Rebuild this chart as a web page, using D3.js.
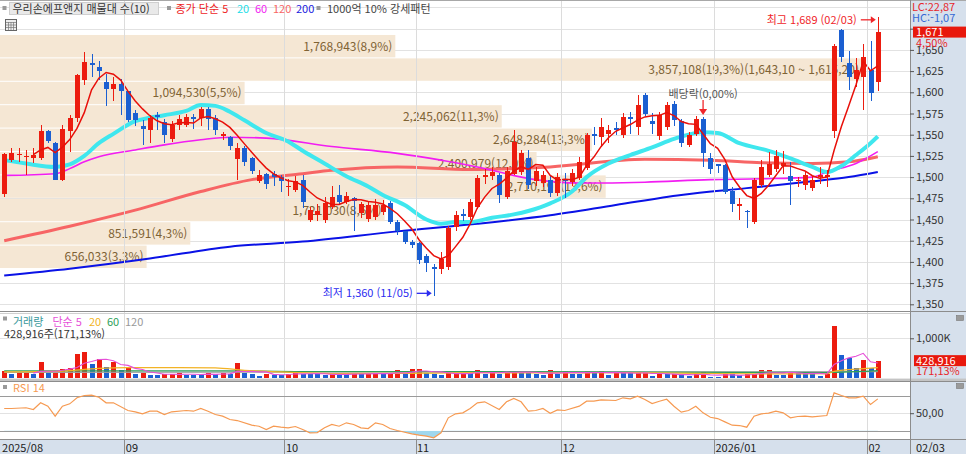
<!DOCTYPE html>
<html lang="ko"><head><meta charset="utf-8"><title>우리손에프앤지</title>
<script src="https://cdn.jsdelivr.net/npm/d3@7/dist/d3.min.js"></script>
<style>html,body{margin:0;padding:0;background:#fff;overflow:hidden}svg{display:block}</style>
</head><body>
<svg id="chart" width="966" height="454"></svg>
<script>
// ================= DATA =================
const openP = [1480,1520,1526,1524,1523,1523,1554,1540,1497,1554,
1570,1614,1634,1630,1612,1604,1610,1601,1576,1560,
1556,1573,1565,1545,1562,1562,1571,1570,1580,1570,
1549,1547,1521,1534,1522,1495,1504,1504,1500,1488,
1485,1497,1450,1455,1450,1465,1479,1471,1475,1458,
1451,1453,1459,1469,1447,1436,1424,1422,1407,1394,
1392,1394,1441,1457,1453,1465,1500,1501,1502,1477,
1504,1506,1522,1495,1493,1497,1481,1497,1494,1499,
1511,1551,1547,1551,1558,1550,1571,1559,1597,1566,
1548,1559,1586,1566,1538,1551,1568,1522,1515,1514,
1484,1466,1460,1447,1491,1503,1510,1513,1501,1495,
1491,1487,1500,1500,1554,1673,1635,1616,1618,1626,
1612];
const highP = [1528,1534,1534,1532,1534,1562,1556,1541,1561,1573,
1622,1647,1645,1637,1622,1618,1616,1602,1579,1567,
1573,1577,1569,1566,1573,1575,1575,1583,1583,1573,
1553,1549,1540,1537,1524,1508,1505,1507,1502,1498,
1501,1502,1465,1468,1476,1490,1491,1482,1477,1471,
1472,1474,1473,1472,1449,1437,1426,1424,1409,1398,
1412,1442,1460,1462,1474,1503,1510,1512,1505,1512,
1555,1532,1532,1512,1507,1503,1505,1505,1509,1524,
1552,1559,1570,1562,1565,1576,1577,1597,1599,1576,
1577,1589,1590,1569,1553,1572,1571,1528,1516,1516,
1488,1475,1461,1499,1520,1530,1532,1531,1518,1500,
1506,1501,1512,1508,1657,1675,1649,1640,1657,1660,
1689];
const lowP = [1477,1518,1518,1502,1517,1520,1540,1496,1495,1530,
1565,1609,1618,1614,1584,1590,1573,1565,1560,1538,
1540,1555,1540,1541,1555,1559,1557,1560,1555,1550,
1544,1532,1496,1513,1504,1493,1486,1490,1483,1478,
1482,1464,1447,1448,1446,1462,1468,1468,1436,1452,
1447,1449,1455,1445,1432,1421,1416,1398,1388,1360,
1386,1390,1436,1448,1450,1462,1492,1496,1470,1474,
1502,1503,1486,1490,1488,1476,1478,1475,1490,1496,
1508,1538,1535,1540,1550,1546,1551,1550,1572,1551,
1544,1555,1560,1536,1535,1548,1512,1504,1505,1480,
1459,1450,1440,1445,1488,1500,1506,1504,1467,1488,
1485,1484,1492,1488,1546,1636,1603,1606,1579,1590,
1602];
const closeP = [1527,1528,1527,1525,1526,1554,1543,1497,1557,1570,
1620,1636,1632,1625,1604,1610,1601,1567,1567,1557,
1570,1571,1550,1561,1569,1571,1568,1580,1569,1556,
1551,1537,1534,1518,1507,1502,1492,1500,1495,1490,
1495,1471,1461,1460,1470,1477,1471,1478,1472,1468,
1467,1467,1467,1447,1436,1424,1420,1402,1399,1392,
1404,1440,1455,1454,1471,1499,1503,1506,1479,1507,
1541,1528,1491,1507,1503,1481,1500,1496,1505,1518,
1550,1549,1559,1556,1556,1571,1568,1585,1575,1563,
1573,1585,1567,1540,1550,1569,1528,1510,1513,1483,
1468,1468,1459,1497,1512,1516,1525,1517,1495,1497,
1502,1497,1502,1502,1655,1642,1618,1626,1642,1599,
1671];
// volume in thousands of shares
const volumeK = [183,108,125,130,100,400,125,133,242,250,
600,667,350,483,283,400,200,250,108,142,
83,78,100,105,125,90,83,80,142,100,
125,108,392,125,120,60,108,83,80,108,
183,100,98,96,94,108,100,98,125,108,
125,128,100,125,208,108,233,236,125,120,
83,125,127,130,125,208,108,142,117,192,
195,133,130,108,83,217,108,192,108,105,
192,133,183,92,142,133,130,142,145,58,
117,100,105,75,67,100,150,42,40,100,
98,83,100,102,208,210,83,80,167,133,
130,125,58,100,1315,583,500,267,458,250,
428.916];
// moving averages: [candle index, value]
const ma20Pts = [[0,1520],[3,1516],[7,1512],[9,1515],[11,1525],[13,1540],[15,1551],[18,1566],[20,1570],[22,1573],[25,1578],[27,1585],[29,1584],[31,1577],[33,1567],[36,1552],[39,1542],[41,1531],[44,1516],[47,1501],[50,1489],[52,1479],[55,1467],[58,1450],[60,1445],[62,1447],[64,1447],[67,1452],[70,1456],[72,1460],[75,1469],[78,1483],[80,1500],[83,1516],[86,1526],[89,1535],[92,1545],[96,1553],[98,1552],[101,1540],[105,1531],[108,1522],[111,1512],[113,1506],[115,1513],[117,1526],[119,1540],[120,1548]];
const ma60Pts = [[0,1502],[7,1504],[9,1510],[11,1518],[13,1524],[18,1532],[22,1538],[27,1544],[31,1547],[36,1546],[45,1536],[54,1528],[60,1520],[65,1512],[67,1508],[73,1497],[79,1493],[88,1494],[97,1497],[104,1498],[111,1500],[113,1506],[117,1516],[120,1530]];
const ma120Pts = [[0,1425],[9,1442],[18,1461],[27,1483],[34,1497],[41,1504],[45,1508],[54,1512],[64,1509],[75,1512],[88,1521],[97,1520],[104,1517],[111,1516],[116,1518],[120,1524]];
const ma200Pts = [[0,1384],[9,1392],[20,1404],[31,1418],[41,1424],[54,1436],[65,1445],[75,1455],[84,1467],[93,1479],[102,1487],[111,1495],[116,1500],[120,1506]];
const volMa20Pts = [[0,160],[8,180],[13,250],[17,268],[24,268],[29,262],[33,200],[38,160],[45,120],[55,125],[65,140],[75,135],[85,140],[95,125],[105,110],[113,115],[114,175],[118,240],[120,265]];
const volMa60Pts = [[0,185],[30,185],[40,170],[70,165],[100,150],[113,145],[120,190]];
const volMa120Pts = [[0,150],[60,160],[120,165]];
const rsiPts = [[0,55.4],[1,55.4],[3,56.2],[4,54.2],[5,61.9],[6,58],[7,46.6],[8,58],[9,60.7],[10,67.6],[11,70.2],[12,70.6],[13,68.3],[14,61.9],[15,61.9],[17,53.1],[18,51.6],[19,49.3],[20,52.3],[21,52.3],[22,48.5],[23,51.6],[25,53.1],[26,52.3],[27,55.4],[28,52.3],[29,48.5],[30,46.6],[31,42.8],[32,41.6],[34,36.3],[35,35.1],[36,31.4],[37,35.1],[38,34],[39,33.3],[40,34.8],[41,31.4],[42,27.6],[43,27.9],[44,33.3],[45,37.1],[46,35.1],[47,39],[48,37.1],[49,33.3],[50,32.5],[51,39],[52,37.1],[53,32.5],[54,30.2],[56,26.4],[57,24.9],[58,23.8],[59,21.9],[60,27.6],[61,44.7],[62,49.3],[63,50.4],[64,55.4],[65,61.9],[66,63],[68,54.2],[69,63],[70,66.8],[71,63],[72,52.3],[73,53.1],[74,55.4],[75,50],[76,53.8],[77,53.1],[79,58],[80,63.7],[81,63.7],[82,65.3],[84,64.5],[85,67.6],[86,66.4],[87,69.5],[88,65.7],[89,61.1],[90,63.7],[91,66],[92,58],[93,51.2],[94,53.1],[95,58],[96,50.4],[97,45.4],[98,43.9],[99,40.1],[100,36.3],[101,35.9],[102,34],[103,46.6],[104,49.3],[105,50],[106,52.3],[107,50.4],[108,44.7],[109,46.2],[110,46.6],[111,45.8],[113,47.4],[114,73.3],[115,70.2],[116,67.6],[117,67.6],[118,69.5],[119,59.9],[120,66.4]];
// volume-profile (매물대) bands, top to bottom
const bandEdges = [1667.6,1640,1612.4,1584.8,1557.2,1529.6,1502,1474.4,1446.8,1419.2,1391.6];
const bandVolumes = [1768943,3857108,1094530,2245062,2648284,2400979,2710197,1721030,851591,656033];
const bandPct = ["8,9","19,3","5,5","11,3","13,3","12,0","13,6","8,6","4,3","3,3"];
const maxBandRange = ["1,643,10","1,615,20"];
// axis ticks
const monthTickIdx = [0,17,39,57,77,98,119];
const monthTickLabels = ["2025/08","09","10","11","12","2026/01","02"];
const priceTicks = [1350,1375,1400,1425,1450,1475,1500,1525,1550,1575,1600,1625,1650,1675,1700];
const priceTickLabels = [1350,1375,1400,1425,1450,1475,1500,1525,1550,1575,1600,1625,1650];
const dividendIdx = 96;
const highDate = "02/03", lowDate = "11/05", lastDate = "02/03";
const changePct = "4,50%", volPct = "171,13%";
const lcText = "LC:22,87", hcText = "HC:-1,07";

// ================= SETUP =================
const FONT = '"Noto Sans CJK KR","Noto Sans",sans-serif';
const RED = "#ec1c0f", BLUE = "#1b5fd1";
const svg = d3.select("#chart").attr("font-family", FONT);
const N = closeP.length;
const idx = d3.range(N);
const PX = 910;
const x = d3.scaleBand().domain(idx).range([0.56, 0.56 + 7.28 * N]).padding(0);
const cx = i => x(i) + x.bandwidth() / 2;
const y = d3.scaleLinear().domain([1350, 1650]).range([304.3, 49.9]);
const yV = d3.scaleLinear().domain([0, 1000]).range([378.3, 338.3]);
const yR = d3.scaleLinear().domain([30, 70]).range([430.7, 395.7]);
const xw = d3.scaleLinear().domain([0, d3.max(bandVolumes)]).range([0, 862]);
const fmt = d3.format(",");

const defs = svg.append("defs");
function clip(id, x0, y0, w, h) {
  defs.append("clipPath").attr("id", id).append("rect").attr("x", x0).attr("y", y0).attr("width", w).attr("height", h);
}
clip("cp", 0, 2, PX, 309.5);
clip("cv", 0, 313.5, PX, 65);
clip("cr", 0, 382, PX, 57.5);
clip("crlow", 0, yR(30), PX, 439.5 - yR(30));

// backgrounds
svg.append("rect").attr("width", 966).attr("height", 454).attr("fill", "#fff");
svg.append("rect").attr("x", PX).attr("y", 0).attr("width", 966 - PX).attr("height", 454).attr("fill", "#d6e0ec");
svg.append("rect").attr("x", 0).attr("y", 440).attr("width", 966).attr("height", 14).attr("fill", "#d6e0ec");

// ================= PRICE PANEL =================
const gp = svg.append("g").attr("clip-path", "url(#cp)");
gp.selectAll("line.hg").data(priceTicks).join("line")
  .attr("x1", 0).attr("x2", PX).attr("y1", d => Math.round(y(d)) + 0.5).attr("y2", d => Math.round(y(d)) + 0.5)
  .attr("stroke", "#e2e2e2");
svg.selectAll("line.vg").data(monthTickIdx.slice(1)).join("line")
  .attr("x1", d => Math.round(x(d)) + 0.5).attr("x2", d => Math.round(x(d)) + 0.5)
  .attr("y1", 1).attr("y2", 440).attr("stroke", "#dcdcdc");

// volume profile bands
gp.selectAll("rect.band").data(bandVolumes).join("rect")
  .attr("x", 0).attr("y", (d, k) => y(bandEdges[k]))
  .attr("width", d => xw(d)).attr("height", (d, k) => y(bandEdges[k + 1]) - y(bandEdges[k]) - 1)
  .attr("fill", "#f5e7d4");
const maxK = d3.maxIndex(bandVolumes);
gp.selectAll("text.band").data(bandVolumes).join("text")
  .attr("x", d => xw(d) - 3).attr("y", (d, k) => (y(bandEdges[k]) + y(bandEdges[k + 1])) / 2 + 4)
  .attr("text-anchor", "end").attr("font-size", 12).attr("fill", "#7f6334")
  .text((d, k) => fmt(d) + "(" + bandPct[k] + "%)" + (k === maxK ? "(" + maxBandRange[0] + " ~ " + maxBandRange[1] + ")" : ""));

// moving averages
const lineP = d3.line().x(d => cx(d[0])).y(d => y(d[1])).curve(d3.curveMonotoneX);
[[ma200Pts, "#0a12e6", 2], [ma120Pts, "#f76565", 3], [ma60Pts, "#f21df2", 1.6], [ma20Pts, "#3fe7ee", 4]].forEach(([pts, c, w]) => {
  gp.append("path").attr("d", lineP(pts)).attr("fill", "none").attr("stroke", c).attr("stroke-width", w).attr("stroke-linejoin", "round");
});

// candles
const cg = gp.append("g").attr("shape-rendering", "crispEdges");
const col = i => closeP[i] >= openP[i] ? RED : BLUE;
cg.selectAll("line.wick").data(idx).join("line")
  .attr("x1", i => Math.round(cx(i)) + 0.5).attr("x2", i => Math.round(cx(i)) + 0.5)
  .attr("y1", i => y(highP[i])).attr("y2", i => y(lowP[i])).attr("stroke", col);
cg.selectAll("rect.body").data(idx).join("rect")
  .attr("x", i => Math.round(cx(i)) - 2).attr("width", 5)
  .attr("y", i => y(Math.max(openP[i], closeP[i])))
  .attr("height", i => Math.max(1.2, Math.abs(y(openP[i]) - y(closeP[i]))))
  .attr("fill", col);

// MA5 of close
const ma5 = closeP.map((c, i) => i < 4 ? null : d3.mean(closeP.slice(i - 4, i + 1)));
gp.append("path").attr("d", d3.line().defined(d => d != null).x((d, i) => cx(i)).y(d => y(d))(ma5))
  .attr("fill", "none").attr("stroke", "#e8100a").attr("stroke-width", 1.5);

// annotations
const hiI = d3.maxIndex(highP), loI = d3.minIndex(lowP);
function arrowH(g, x1, x2, yy, c) {
  g.append("line").attr("x1", x1).attr("x2", x2 - 4).attr("y1", yy).attr("y2", yy).attr("stroke", c).attr("stroke-width", 1.3);
  g.append("path").attr("d", `M${x2},${yy} L${x2 - 5},${yy - 3.5} L${x2 - 5},${yy + 3.5}Z`).attr("fill", c);
}
const ga = svg.append("g").attr("font-size", 11);
ga.append("text").attr("x", cx(hiI) - 21).attr("y", y(highP[hiI]) + 7).attr("text-anchor", "end")
  .attr("fill", "#f0262a").text("최고 " + fmt(highP[hiI]) + " (" + highDate + ")");
arrowH(ga, cx(hiI) - 17, cx(hiI) - 2, y(highP[hiI]) + 3, "#f0262a");
ga.append("text").attr("x", cx(loI) - 21).attr("y", y(lowP[loI]) + 1.5).attr("text-anchor", "end")
  .attr("fill", "#2c2cf0").text("최저 " + fmt(lowP[loI]) + " (" + lowDate + ")");
arrowH(ga, cx(loI) - 17, cx(loI) - 2, y(lowP[loI]) - 2.5, "#2c2cf0");
ga.append("text").attr("x", cx(dividendIdx)).attr("y", y(highP[dividendIdx]) - 19).attr("text-anchor", "middle")
  .attr("fill", "#555").text("배당락(0,00%)");
{
  const tx = cx(dividendIdx), ty = y(highP[dividendIdx]) - 2;
  ga.append("line").attr("x1", tx).attr("x2", tx).attr("y1", ty - 15).attr("y2", ty - 4).attr("stroke", "#f0262a").attr("stroke-width", 1.3);
  ga.append("path").attr("d", `M${tx},${ty} L${tx - 4},${ty - 6} L${tx + 4},${ty - 6}Z`).attr("fill", "#f0262a");
}

// ================= VOLUME PANEL =================
const gv = svg.append("g").attr("clip-path", "url(#cv)");
gv.append("line").attr("x1", 0).attr("x2", PX).attr("y1", Math.round(yV(1000)) + 0.5).attr("y2", Math.round(yV(1000)) + 0.5).attr("stroke", "#e2e2e2");
const vcol = i => (i === 0 || volumeK[i] >= volumeK[i - 1]) ? RED : BLUE;
gv.append("g").attr("shape-rendering", "crispEdges").selectAll("rect").data(idx).join("rect")
  .attr("x", i => Math.round(cx(i)) - 2).attr("width", 5)
  .attr("y", i => yV(volumeK[i])).attr("height", i => yV(0) - yV(volumeK[i])).attr("fill", vcol);
const lineV = d3.line().x(d => cx(d[0])).y(d => yV(d[1])).curve(d3.curveMonotoneX);
[[volMa120Pts, "#a0a0a0"], [volMa60Pts, "#2fa05a"], [volMa20Pts, "#f2b325"]].forEach(([p, c]) => {
  gv.append("path").attr("d", lineV(p)).attr("fill", "none").attr("stroke", c).attr("stroke-width", 1.2);
});
const vma5 = volumeK.map((v, i) => i < 4 ? null : d3.mean(volumeK.slice(i - 4, i + 1)));
gv.append("path").attr("d", d3.line().defined(d => d != null).x((d, i) => cx(i)).y(d => yV(d))(vma5))
  .attr("fill", "none").attr("stroke", "#e64fd8").attr("stroke-width", 1.1);

// ================= RSI PANEL =================
const gr = svg.append("g").attr("clip-path", "url(#cr)");
gr.append("line").attr("x1", 0).attr("x2", PX).attr("y1", Math.round(yR(50)) + 0.5).attr("y2", Math.round(yR(50)) + 0.5).attr("stroke", "#e2e2e2");
[70, 30].forEach(v => gr.append("line").attr("x1", 0).attr("x2", PX).attr("y1", Math.round(yR(v)) + 0.5).attr("y2", Math.round(yR(v)) + 0.5).attr("stroke", "#9a9a9a").attr("stroke-width", 1.2));
gr.append("path").attr("clip-path", "url(#crlow)")
  .attr("d", d3.area().x(d => cx(d[0])).y0(yR(30)).y1(d => yR(d[1]))(rsiPts))
  .attr("fill", "#9fd7ee");
gr.append("path").attr("d", d3.line().x(d => cx(d[0])).y(d => yR(d[1]))(rsiPts))
  .attr("fill", "none").attr("stroke", "#f69a52").attr("stroke-width", 1.2);

// ================= BORDERS =================
const bl = (x1, y1, x2, y2, c, w) => svg.append("line").attr("x1", x1).attr("y1", y1).attr("x2", x2).attr("y2", y2).attr("stroke", c).attr("stroke-width", w || 1).attr("shape-rendering", "crispEdges");
bl(0, 0.5, 966, 0.5, "#a8a8a8");
bl(0, 311.5, 966, 311.5, "#8c8c8c");
bl(0, 313, PX, 313, "#d0d0d0");
svg.append("rect").attr("x", 0).attr("y", 378.6).attr("width", 966).attr("height", 3).attr("fill", "#c4c4c4");
bl(0, 381.5, 966, 381.5, "#8c8c8c");
bl(0, 439.5, 966, 439.5, "#8c8c8c");
bl(PX + 0.5, 0, PX + 0.5, 454, "#8c8c8c");

// ================= AXES =================
function styleAxis(g) {
  g.attr("font-family", FONT).attr("font-size", 11);
  g.select(".domain").remove();
  g.selectAll("line").attr("stroke", "#555");
  g.selectAll("text").attr("fill", "#333");
}
svg.append("g").attr("transform", `translate(${PX},0)`)
  .call(d3.axisRight(y).tickValues(priceTicks.filter(t => y(t) > 20)).tickFormat(t => priceTickLabels.includes(t) ? fmt(t) : "").tickSize(4).tickPadding(2)).call(styleAxis);
svg.append("g").attr("transform", `translate(${PX},0)`)
  .call(d3.axisRight(yV).tickValues([1000]).tickFormat(d => fmt(d) + "K").tickSize(4).tickPadding(2)).call(styleAxis);
svg.append("g").attr("transform", `translate(${PX},0)`)
  .call(d3.axisRight(yR).tickValues([50]).tickFormat(d => d3.format(".2f")(d).replace(".", ",")).tickSize(4).tickPadding(2)).call(styleAxis);

// bottom date axis
const gb = svg.append("g").attr("font-size", 11).attr("fill", "#222");
gb.selectAll("line").data(monthTickIdx.slice(1)).join("line")
  .attr("x1", d => Math.round(x(d)) + 0.5).attr("x2", d => Math.round(x(d)) + 0.5)
  .attr("y1", 440).attr("y2", 454).attr("stroke", "#8c8c8c");
gb.selectAll("text").data(monthTickIdx).join("text")
  .attr("x", d => x(d) + 1.5).attr("y", 451.5).text((d, k) => monthTickLabels[k]);
svg.append("text").attr("x", 916).attr("y", 451.5).attr("font-size", 11).attr("fill", "#222").text(lastDate);

// right-side value boxes
const last = N - 1;
svg.append("text").attr("x", 912).attr("y", 11).attr("font-size", 11).attr("fill", "#e8262a").text(lcText);
svg.append("text").attr("x", 912).attr("y", 21.5).attr("font-size", 11).attr("fill", "#3468d4").text(hcText);
svg.append("rect").attr("x", 913).attr("y", y(closeP[last]) - 5.5).attr("width", 53).attr("height", 11).attr("fill", "#e8180c");
svg.append("text").attr("x", 916).attr("y", y(closeP[last]) + 4).attr("font-size", 11).attr("fill", "#fff").text(fmt(closeP[last]));
svg.append("text").attr("x", 916).attr("y", y(closeP[last]) + 14.5).attr("font-size", 11).attr("fill", "#e8262a").text(changePct);
const lv = volumeK[last];
svg.append("rect").attr("x", 914).attr("y", yV(lv) - 6).attr("width", 52).attr("height", 11).attr("fill", "#e8180c");
svg.append("text").attr("x", 916).attr("y", yV(lv) + 3.5).attr("font-size", 11).attr("fill", "#fff").text(fmt(Math.round(lv * 1000)));
svg.append("text").attr("x", 916).attr("y", yV(lv) + 14).attr("font-size", 11).attr("fill", "#e8262a").text(volPct);
[315, 383].forEach(yy => {
  svg.append("rect").attr("x", 956.5).attr("y", yy + 0.5).attr("width", 7).attr("height", 5).attr("fill", "#9a9a9a").attr("stroke", "#777").attr("stroke-width", 0.6);
});

// ================= LEGENDS =================
const lg = svg.append("g").attr("font-size", 11);
const sq = (xx, yy) => lg.append("rect").attr("x", xx).attr("y", yy).attr("width", 4).attr("height", 4).attr("fill", "#9a9a9a");
sq(2.5, 6);
lg.append("rect").attr("x", 9.5).attr("y", 2.5).attr("width", 149).attr("height", 12).attr("fill", "#e9e9e9").attr("stroke", "#cfcfcf");
lg.append("text").attr("x", 12.5).attr("y", 12.5).attr("fill", "#333").text("우리손에프앤지 매물대 수(10)");
sq(167, 6);
[["종가 단순 5", 175.5, "#ee1c24"], ["20", 237, "#22dde8"], ["60", 255, "#f21df2"], ["120", 273, "#f76565"], ["200", 296, "#2020e0"]]
  .forEach(([t, xx, c]) => lg.append("text").attr("x", xx).attr("y", 12.5).attr("fill", c).text(t));
sq(316.5, 6);
lg.append("text").attr("x", 327).attr("y", 12.5).attr("fill", "#444").text("1000억 10% 강세패턴");
// grid icon
lg.append("rect").attr("x", 5.5).attr("y", 19.5).attr("width", 11).attr("height", 11).attr("fill", "#eee").attr("stroke", "#666");
[8.5, 11, 13.5].forEach(v => {
  lg.append("line").attr("x1", v).attr("x2", v).attr("y1", 22).attr("y2", 30).attr("stroke", "#777").attr("stroke-width", 0.7);
});
[22.5, 25, 27.5].forEach(v => {
  lg.append("line").attr("x1", 6).attr("x2", 16).attr("y1", v).attr("y2", v).attr("stroke", "#777").attr("stroke-width", 0.7);
});
// volume legend
sq(3, 316.5);
[["거래량", 13, "#3a9a9c"], ["단순 5", 52.5, "#e64fd8"], ["20", 89, "#f2b325"], ["60", 107, "#2fa05a"], ["120", 125, "#999"]]
  .forEach(([t, xx, c]) => lg.append("text").attr("x", xx).attr("y", 326).attr("fill", c).text(t));
lg.append("text").attr("x", 4).attr("y", 337.5).attr("fill", "#333").text(fmt(Math.round(lv * 1000)) + "주(" + volPct + ")");
sq(3, 385);
lg.append("text").attr("x", 13).attr("y", 391.5).attr("fill", "#f69a52").text("RSI 14");
</script>
</body></html>
